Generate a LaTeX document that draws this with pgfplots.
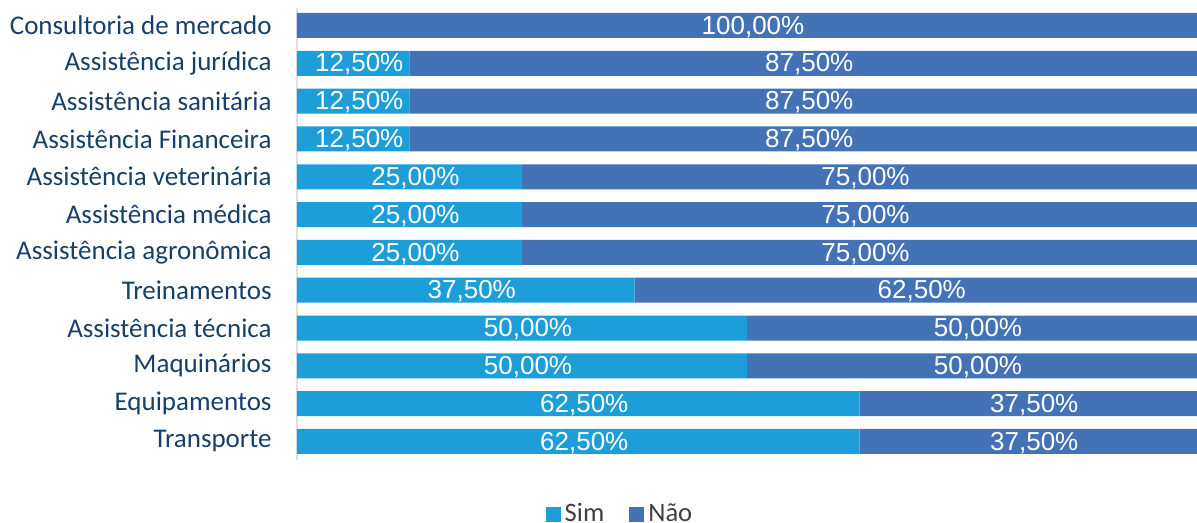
\documentclass[border=0pt]{standalone}
\usepackage{fontspec}
\setmainfont{Carlito}
\newfontfamily\arialfont{Liberation Sans}
\usepackage{pgfplots}
\pgfplotsset{compat=1.18}
\definecolor{simblue}{RGB}{30,158,216}
\definecolor{naoblue}{RGB}{68,114,183}
\definecolor{labelblue}{RGB}{23,64,105}
\definecolor{legendgray}{RGB}{64,64,64}

\begin{document}
\begin{tikzpicture}
\begin{axis}[
    at={(0,0)}, anchor=south west,
    scale only axis,
    width=450pt, height=226pt,
    xbar stacked,
    bar width=12.5pt,
    xmin=0, xmax=100,
    ymin=-0.49, ymax=11.463,
    hide x axis,
    axis y line*=left,
    y axis line style={draw=black!12, line width=1.2pt, -},
    ytick={0,...,11},
    yticklabels={Transporte, Equipamentos, Maquinários, Assistência técnica,
        Treinamentos, Assistência agronômica, Assistência médica,
        Assistência veterinária, Assistência Financeira\hspace{3.5pt},
        Assistência sanitária, Assistência jurídica, Consultoria de mercado},
    major tick length=0pt,
    y tick label style={font=\fontsize{13.5pt}{15pt}\selectfont, text=labelblue,
        anchor=east, inner sep=0pt, xshift=-12.5pt},
    % stacked bars: labels sit at segment centres already
    visualization depends on={rawx \as \rawx},
    nodes near coords={\pgfmathparse{\rawx>0}\ifnum\pgfmathresult=1 \pgfmathprintnumber[fixed,fixed zerofill,precision=2,use comma,assume math mode=true]{\rawx}\%\fi},
    every node near coord/.append style={anchor=center, text=white,
        font=\arialfont\fontsize{13pt}{15pt}\selectfont, inner sep=0pt,
        xshift=3pt, yshift=-0.6pt},
    legend style={at={(0.36,-0.1195)}, anchor=center, draw=none, fill=none,
        font=\fontsize{13.3pt}{15pt}\selectfont, text=legendgray,
        legend columns=2,
        /tikz/every even column/.append style={column sep=10.5pt}},
    legend cell align=left,
    legend image code/.code={\fill[#1] (0pt,-3.75pt) rectangle (7.5pt,3.75pt);},
]
\addplot[fill=simblue, draw=none] coordinates {
    (62.5,0) (62.5,1) (50,2) (50,3) (37.5,4) (25,5)
    (25,6) (25,7) (12.5,8) (12.5,9) (12.5,10) (0,11)
};
\addplot[fill=naoblue, draw=none] coordinates {
    (37.5,0) (37.5,1) (50,2) (50,3) (62.5,4) (75,5)
    (75,6) (75,7) (87.5,8) (87.5,9) (87.5,10) (100,11)
};
\legend{Sim, Não}
\end{axis}
\pgfresetboundingbox
\path (-148.5pt,-31.5pt) rectangle (450pt,230pt);
\end{tikzpicture}
\end{document}
